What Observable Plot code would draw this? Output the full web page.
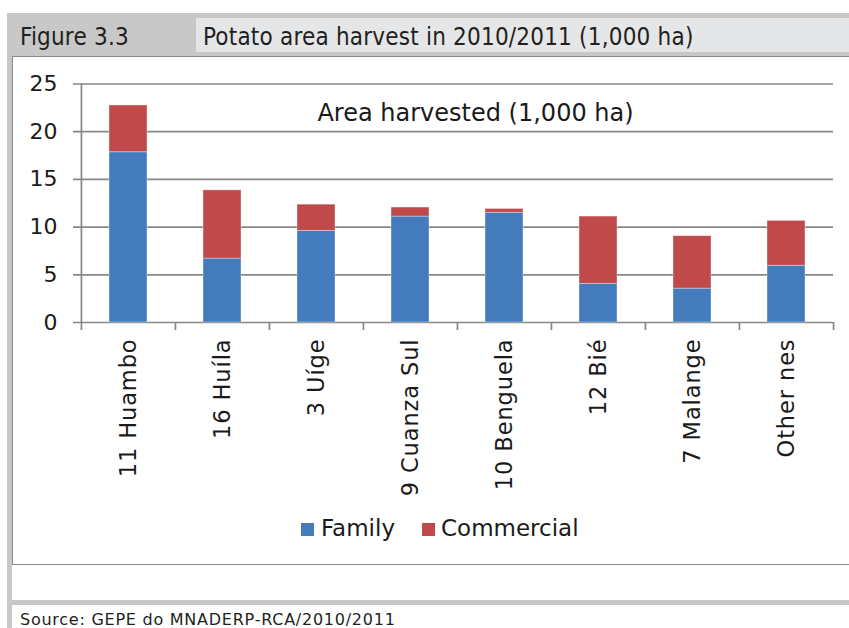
<!DOCTYPE html>
<html>
<head>
<meta charset="utf-8">
<script src="https://cdn.jsdelivr.net/npm/d3@7"></script>
<script src="https://cdn.jsdelivr.net/npm/@observablehq/plot@0.6"></script>
<style>
  html, body { margin: 0; padding: 0; background: #fff; }
  #page { position: relative; width: 849px; height: 628px; overflow: hidden; }
  .abs { position: absolute; }
  .hdr { font-family: "DejaVu Sans Condensed", "DejaVu Sans", sans-serif; font-stretch: condensed; color: #231f20; white-space: nowrap; line-height: 1; }
  .leg { font-family: "DejaVu Sans", sans-serif; font-size: 23px; color: #1a1a1a; white-space: nowrap; line-height: 1; }
  #chart svg { position: absolute; left: 0; top: 0; }
  #chart svg text.xlab { letter-spacing: 0.9px; }
</style>
</head>
<body>
<div id="page">
  <div class="abs" style="left:7px;top:13px;width:842px;height:44px;background:#c8c8c8;"></div>
  <div class="abs" style="left:7px;top:13px;width:5px;height:615px;background:#c8c8c8;"></div>
  <div class="abs" style="left:196px;top:18px;width:653px;height:34px;background:#e5e6e7;"></div>
  <div class="abs" style="left:12px;top:56px;width:850px;height:507px;border:1.5px solid #8a8a8a;background:#fff;"></div>
  <div class="abs" style="left:7px;top:600px;width:842px;height:5px;background:#c8c8c8;"></div>
  <div id="fig" class="abs hdr" style="left:20px;top:25px;font-size:24px;letter-spacing:0.2px;"></div>
  <div id="ttl" class="abs hdr" style="left:203px;top:25px;font-size:24px;letter-spacing:0.2px;"></div>
  <div id="src" class="abs hdr" style="left:20px;top:612px;font-size:16px;font-family:'DejaVu Sans',sans-serif;font-stretch:normal;letter-spacing:0.75px;"></div>
  <div id="chart" class="abs" style="left:0;top:0;width:849px;height:500px;"></div>
  <div id="legend"></div>
</div>
<script>
// ---- data ----
const figureLabel = "Figure 3.3";
const figureTitle = "Potato area harvest in 2010/2011 (1,000 ha)";
const sourceNote = "Source: GEPE do MNADERP-RCA/2010/2011";
const chartLabel = "Area harvested (1,000 ha)";
const categories = ["11 Huambo", "16 Huíla", "3 Uíge", "9 Cuanza Sul", "10 Benguela", "12 Bié", "7 Malange", "Other nes"];
const family =     [17.85, 6.7, 9.6, 11.1, 11.5, 4.05, 3.55, 5.95];
const commercial = [4.9, 7.15, 2.75, 0.95, 0.4, 7.05, 5.5, 4.7];
const seriesNames = ["Family", "Commercial"];
const seriesColors = ["#447bbd", "#c0494a"];
const yTicks = [0, 5, 10, 15, 20, 25];

// ---- header / footer ----
document.getElementById("fig").textContent = figureLabel;
document.getElementById("ttl").textContent = figureTitle;
document.getElementById("src").textContent = sourceNote;

// ---- table ----
const rows = [];
categories.forEach((c, i) => {
  rows.push({region: c, type: seriesNames[0], value: family[i]});
  rows.push({region: c, type: seriesNames[1], value: commercial[i]});
});

const W = 849, H = 500, mL = 80, mR = 16, mT = 83.5, mB = 178;
const step = (W - mL - mR) / categories.length;
const gridColor = "#878787";
const tickBelow = -0.84;

const chart = Plot.plot({
  width: W, height: H,
  marginLeft: mL, marginRight: mR, marginTop: mT, marginBottom: mB,
  style: {background: "transparent", fontFamily: "DejaVu Sans, sans-serif", overflow: "visible"},
  x: {domain: categories, paddingInner: 0.6, paddingOuter: 0.3, axis: null},
  y: {domain: [0, 25], axis: null},
  color: {domain: seriesNames, range: seriesColors},
  marks: [
    Plot.ruleY(yTicks, {y: d => d, stroke: gridColor, strokeWidth: 1.7, insetLeft: -7}),
    Plot.ruleX(categories, {x: d => d, dx: -step / 2, y1: tickBelow, y2: (d, i) => i === 0 ? 25 : 0, stroke: gridColor, strokeWidth: 1.7}),
    Plot.ruleX([categories[categories.length - 1]], {x: d => d, dx: step / 2, y1: tickBelow, y2: 0, stroke: gridColor, strokeWidth: 1.7}),
    Plot.barY(rows, {x: "region", y: "value", fill: "type", order: seriesNames, stroke: "#ffffff", strokeOpacity: 0.35, strokeWidth: 1}),
    Plot.text(yTicks, {y: d => d, frameAnchor: "left", dx: -23, textAnchor: "end", text: d => String(d), fontSize: 22, fill: "#1a1a1a"}),
    Plot.text(categories, {x: d => d, frameAnchor: "bottom", dy: 16, rotate: -90, textAnchor: "end", lineAnchor: "middle", text: d => d, fontSize: 22.5, fill: "#1a1a1a", className: "xlab"}),
    Plot.text([chartLabel], {frameAnchor: "top", dx: 18.5, dy: 20, text: d => d, fontSize: 24, fill: "#1a1a1a"})
  ]
});
chart.querySelectorAll("text").forEach(t => {
  if (categories.includes(t.textContent)) t.setAttribute("class", "xlab");
});
document.getElementById("chart").appendChild(chart);

// ---- legend ----
const leg = document.getElementById("legend");
const legPos = [{sq: 301, tx: 321}, {sq: 422, tx: 441}];
seriesNames.forEach((n, i) => {
  const sq = document.createElement("div");
  sq.className = "abs";
  sq.style.cssText = `left:${legPos[i].sq}px;top:523px;width:13px;height:13px;background:${seriesColors[i]};`;
  leg.appendChild(sq);
  const t = document.createElement("div");
  t.className = "abs leg";
  t.style.cssText = `left:${legPos[i].tx}px;top:517px;`;
  t.textContent = n;
  leg.appendChild(t);
});
</script>
</body>
</html>
